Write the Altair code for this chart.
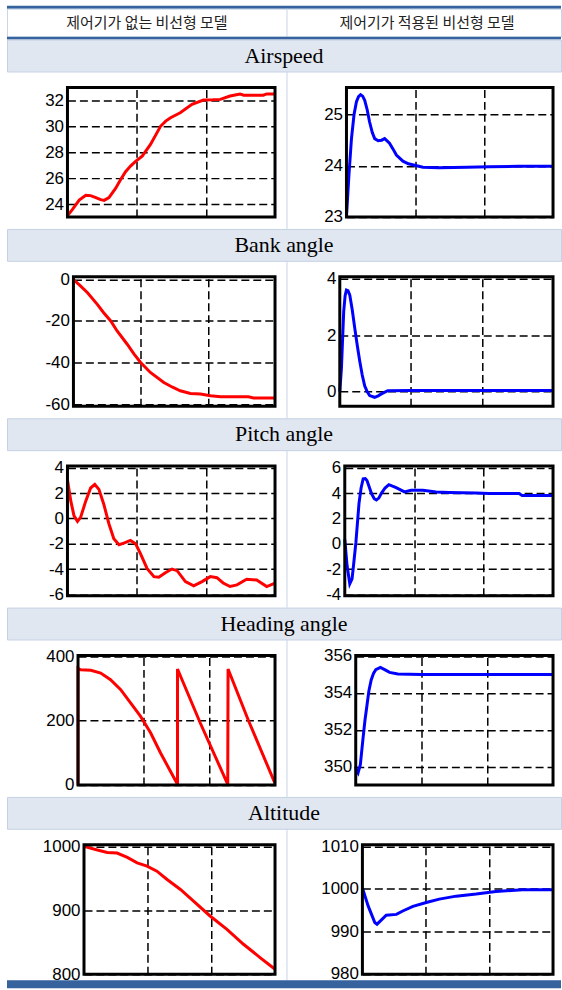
import altair as alt
import pandas as pd

# ---------------- text ----------------
COL_TITLES = ["제어기가 없는 비선형 모델", "제어기가 적용된 비선형 모델"]
SECTIONS = ["Airspeed", "Bank angle", "Pitch angle", "Heading angle", "Altitude"]

X_DOMAIN = [0, 60]
X_GRID = [20, 40]

# ---------------- Airspeed ----------------
AIR_L_T = [0, 1.5, 3.4, 5.3, 6.7, 8.2, 9.6, 10.6, 12, 13.9, 15.3, 16.8, 18.3, 19.7, 21.6, 24, 26.9,
           28.4, 29.8, 32.6, 36, 39.3, 42, 44.2, 47, 49.9, 50.9, 53.5, 56.6, 57.6, 60]
AIR_L_V = [23.1, 23.6, 24.3, 24.67, 24.65, 24.5, 24.34, 24.28, 24.5, 25.2, 25.85, 26.5, 26.95, 27.3,
           27.7, 28.6, 30.0, 30.4, 30.66, 31.05, 31.7, 32.03, 32.05, 32.08, 32.34, 32.5, 32.4, 32.4,
           32.4, 32.5, 32.5]
AIR_R_T = [0, 0.7, 1.45, 2.2, 2.9, 3.5, 4.1, 4.7, 5.3, 6.0, 6.7, 7.5, 8.2, 9.2, 10.2, 11.1, 12.5,
           13.5, 14.5, 16.4, 18.0, 19.8, 22.2, 26.9, 35, 41.5, 50, 60]
AIR_R_V = [23.0, 23.8, 24.53, 25.0, 25.25, 25.35, 25.39, 25.36, 25.28, 25.1, 24.86, 24.65, 24.53,
           24.49, 24.5, 24.53, 24.44, 24.33, 24.21, 24.09, 24.04, 24.01, 23.97, 23.96, 23.97, 23.98,
           23.99, 23.99]
AIR_L_DOMAIN = [23, 33]
AIR_L_TICKS = [24, 26, 28, 30, 32]
AIR_R_DOMAIN = [23, 25.53]
AIR_R_TICKS = [23, 24, 25]

# ---------------- Bank angle ----------------
BANK_L_T = [0, 2, 4.2, 7.1, 9, 11.1, 13, 16, 18, 20, 22.9, 26.9, 29.5, 31.8, 34.8, 37.8, 40.8,
            43.8, 48, 52.1, 53.6, 60]
BANK_L_V = [0, -3, -6.4, -12, -16, -20, -24.8, -31.2, -35.8, -40, -44.8, -49.6, -51.9, -53.6,
            -54.9, -55.2, -56, -56.5, -56.5, -56.5, -57.1, -57.1]
BANK_R_T = [0, 0.47, 1.1, 1.5, 1.87, 2.3, 2.8, 3.5, 4.2, 4.9, 5.6, 6.3, 7, 7.7, 8.4, 9.8, 10.8,
            11.7, 13.5, 20, 30, 40, 50, 60]
BANK_R_V = [0, 0.85, 2.84, 3.4, 3.6, 3.58, 3.43, 2.9, 2.26, 1.65, 1.09, 0.6, 0.21, 0.0, -0.14,
            -0.2, -0.15, -0.08, 0.035, 0.04, 0.04, 0.04, 0.04, 0.04]
BANK_L_DOMAIN = [-61.1, 1.3]
BANK_L_TICKS = [-60, -40, -20, 0]
BANK_R_DOMAIN = [-0.52, 4.07]
BANK_R_TICKS = [0, 2, 4]

# ---------------- Pitch angle ----------------
PITCH_L_T = [0, 0.96, 1.9, 2.9, 3.8, 5.3, 6.7, 7.9, 9.1, 10.5, 12, 13.4, 14.9, 16.3, 18.2, 19.7,
             21.1, 23, 25, 26.4, 28.3, 30.2, 31.7, 34.1, 36.5, 38.9, 41.3, 43.2, 45, 47, 49, 51.8,
             54.7, 57.6, 60]
PITCH_L_V = [3.06, 1.38, 0.2, -0.23, 0.08, 1.38, 2.4, 2.68, 2.29, 1.12, -0.44, -1.61, -2.08, -1.95,
             -1.74, -2.0, -2.78, -3.95, -4.6, -4.65, -4.29, -4.0, -4.13, -4.99, -5.32, -4.99, -4.6,
             -4.68, -5.1, -5.38, -5.25, -4.81, -4.86, -5.38, -5.12]
PITCH_R_T = [0, 0.67, 1.44, 2.1, 2.6, 3.2, 4.1, 4.7, 5.3, 5.9, 6.4, 7.7, 8.5, 9.1, 9.8, 10.5, 11.6,
             12.7, 14.8, 17.2, 19.1, 22.5, 26.3, 30, 37.8, 41.6, 50.2, 51.1, 60]
PITCH_R_V = [0.34, -1.74, -3.16, -2.77, -1.5, 0.08, 3.19, 4.4, 5.13, 5.15, 5.0, 3.96, 3.55, 3.45,
             3.6, 3.96, 4.4, 4.66, 4.43, 4.09, 4.22, 4.22, 4.09, 4.05, 4.0, 3.96, 3.96, 3.81, 3.81]
PITCH_L_DOMAIN = [-6.1, 4.13]
PITCH_L_TICKS = [-6, -4, -2, 0, 2, 4]
PITCH_R_DOMAIN = [-4.1, 6.13]
PITCH_R_TICKS = [-4, -2, 0, 2, 4, 6]

# ---------------- Heading angle ----------------
HEAD_L_T = [0, 0, 0.8, 3.9, 6.9, 9.9, 13, 16, 19, 22.1, 25.1, 28.1, 30.3, 30.3, 37.2, 45.6, 45.7,
            51.9, 59.7, 60]
HEAD_L_V = [0, 362, 357.7, 355.7, 347.4, 326.8, 295.9, 254.6, 213.4, 161.9, 100, 43.3, 2, 360,
            193, 2, 360, 200, 12, 6]
HEAD_R_T = [0, 0.2, 0.7, 1.4, 2.2, 2.8, 3.4, 4.0, 4.7, 5.4, 6.1, 7.5, 8.8, 10.3, 12.8, 20, 30, 40,
            50, 60]
HEAD_R_V = [350.0, 349.8, 349.65, 350.1, 351.5, 352.5, 353.3, 354.1, 354.7, 355.05, 355.26, 355.38,
            355.26, 355.11, 355.02, 355.0, 355.0, 355.0, 355.0, 355.0]
HEAD_L_DOMAIN = [0, 402]
HEAD_L_TICKS = [0, 200, 400]
HEAD_R_DOMAIN = [349, 356.03]
HEAD_R_TICKS = [350, 352, 354, 356]

# ---------------- Altitude ----------------
ALT_L_T = [0, 4.2, 7.3, 10.4, 13.6, 16.7, 19.8, 22.9, 26.1, 30.3, 34.4, 39.6, 44.9, 50.1, 55.3,
           59.7, 60]
ALT_L_V = [1000, 994.3, 990.6, 989.6, 982.8, 974.3, 969.1, 961.3, 948.3, 932.7, 914.5, 891.2,
           870.4, 847, 826.2, 809.1, 808]
ALT_R_T = [0, 1.8, 3.9, 4.6, 6, 7.5, 10.7, 12.7, 15.9, 20.1, 24.2, 29.5, 35.8, 42, 50.4, 60]
ALT_R_V = [1000.2, 996, 992.1, 991.7, 992.7, 993.8, 994.0, 994.8, 995.9, 996.8, 997.6, 998.3,
           998.8, 999.4, 999.8, 999.8]
ALT_L_DOMAIN = [800, 1002.6]
ALT_L_TICKS = [800, 900, 1000]
ALT_R_DOMAIN = [979.9, 1010.4]
ALT_R_TICKS = [980, 990, 1000, 1010]

# ---------------- style / layout ----------------
RED = "#ff0000"
BLUE = "#0000ff"
BAND = "#36629e"
HEAD_FILL = "#e0e7f1"
HEAD_STROKE = "#c5d1e4"
CELL_STROKE = "#c9d5e8"
LABEL_FONT = "Liberation Sans Narrow, Arial Narrow, Liberation Sans, sans-serif"
FULL_W = 556
FRAME_TOP = 16
FRAME_H = 130
ROW_H = [158, 158, 158, 158, 152]
COL_RANGE = [0, 562]
# panel frame x-ranges inside a row (pixels from the chart's left edge)
LEFT_X = [[60.7, 269], [66.7, 269], [60.7, 269], [71.3, 269], [77.3, 269]]
RIGHT_X = [[340.7, 548], [334, 548], [339, 548], [350, 548], [356.7, 548]]


def col_scale():
    return alt.Scale(domain=COL_TITLES, range=COL_RANGE, paddingInner=0, paddingOuter=0)


def column_divider():
    df = pd.DataFrame({"label": COL_TITLES[1:]})
    return alt.Chart(df).mark_rule(color=CELL_STROKE, strokeWidth=1).encode(
        x=alt.X("label:N", scale=col_scale(), axis=None, bandPosition=0))


def empty_chart(w, h, **view):
    return alt.Chart(alt.InlineData(values=[])).mark_point().properties(
        width=w, height=h, view=alt.ViewBackground(strokeWidth=0, **view))


def section(i):
    return alt.Chart(pd.DataFrame({"label": [SECTIONS[i]]})).mark_text(
        font="Liberation Serif, Times New Roman, serif", fontSize=22, color="black"
    ).encode(text="label:N").properties(
        width=FULL_W, height=32,
        view=alt.ViewBackground(fill=HEAD_FILL, stroke=HEAD_STROKE, strokeWidth=1))


def header():
    df = pd.DataFrame({"label": COL_TITLES})
    txt = alt.Chart(df).mark_text(font="Noto Sans CJK KR", fontSize=15, color="#222222").encode(
        x=alt.X("label:N", scale=col_scale(), axis=None), text="label:N")
    return alt.layer(column_divider(), txt).properties(
        width=FULL_W, height=28,
        view=alt.ViewBackground(fill="white", stroke=CELL_STROKE, strokeWidth=1))


def panel(t, v, color, domain, ticks, xr):
    df = pd.DataFrame({"t": t, "v": v, "i": list(range(len(t)))})
    yr = [FRAME_TOP + FRAME_H, FRAME_TOP]
    xs = alt.Scale(domain=X_DOMAIN, range=xr, nice=False, zero=False)
    ys = alt.Scale(domain=domain, range=yr, nice=False, zero=False)
    grid = dict(grid=True, gridColor="black", gridDash=[8, 4], gridWidth=1.5, gridOpacity=1,
                ticks=False, domain=False)
    x_axis = alt.Axis(orient="top", values=X_GRID, labels=False, **grid)
    y_axis = alt.Axis(orient="left", offset=-xr[0], values=ticks,
                      labelExpr="toString(datum.value)", labelFont=LABEL_FONT,
                      labelFontSize=17, labelColor="black", labelPadding=4,
                      labelFlush=False, labelOverlap=False, **grid)
    line = alt.Chart(df).mark_line(color=color, strokeWidth=3).encode(
        x=alt.X("t:Q", title=None, scale=xs, axis=x_axis),
        y=alt.Y("v:Q", title=None, scale=ys, axis=y_axis),
        order="i:Q",
    )
    frame = alt.Chart(pd.DataFrame({"f": [0]})).mark_rect(
        filled=False, stroke="black", strokeWidth=3
    ).encode(
        x=alt.XDatum(X_DOMAIN[0], title=None, scale=xs, axis=x_axis),
        x2=alt.X2Datum(X_DOMAIN[1]),
        y=alt.YDatum(domain[0], title=None, scale=ys, axis=y_axis),
        y2=alt.Y2Datum(domain[1]),
    )
    return alt.layer(line, frame)


def row(k, left, right):
    return alt.layer(
        column_divider(),
        panel(*left, LEFT_X[k]),
        panel(*right, RIGHT_X[k]),
    ).resolve_scale(x="independent", y="independent").properties(
        width=FULL_W, height=ROW_H[k])


rows = [
    row(0, (AIR_L_T, AIR_L_V, RED, AIR_L_DOMAIN, AIR_L_TICKS),
        (AIR_R_T, AIR_R_V, BLUE, AIR_R_DOMAIN, AIR_R_TICKS)),
    row(1, (BANK_L_T, BANK_L_V, RED, BANK_L_DOMAIN, BANK_L_TICKS),
        (BANK_R_T, BANK_R_V, BLUE, BANK_R_DOMAIN, BANK_R_TICKS)),
    row(2, (PITCH_L_T, PITCH_L_V, RED, PITCH_L_DOMAIN, PITCH_L_TICKS),
        (PITCH_R_T, PITCH_R_V, BLUE, PITCH_R_DOMAIN, PITCH_R_TICKS)),
    row(3, (HEAD_L_T, HEAD_L_V, RED, HEAD_L_DOMAIN, HEAD_L_TICKS),
        (HEAD_R_T, HEAD_R_V, BLUE, HEAD_R_DOMAIN, HEAD_R_TICKS)),
    row(4, (ALT_L_T, ALT_L_V, RED, ALT_L_DOMAIN, ALT_L_TICKS),
        (ALT_R_T, ALT_R_V, BLUE, ALT_R_DOMAIN, ALT_R_TICKS)),
]

items = [
    empty_chart(FULL_W, 3, fill=BAND),
    header(),
    empty_chart(FULL_W, 3, fill=BAND),
]
for k in range(5):
    items.append(section(k))
    items.append(rows[k])
items.append(empty_chart(FULL_W, 8, fill=BAND))

chart = alt.vconcat(*items, spacing=0, bounds="flush").properties(
    padding={"left": 6, "top": 4, "right": 0, "bottom": 0}
).configure(background="white").configure_view(strokeWidth=0)

chart.save("out.html", embed_options={"renderer": "svg", "actions": False})
